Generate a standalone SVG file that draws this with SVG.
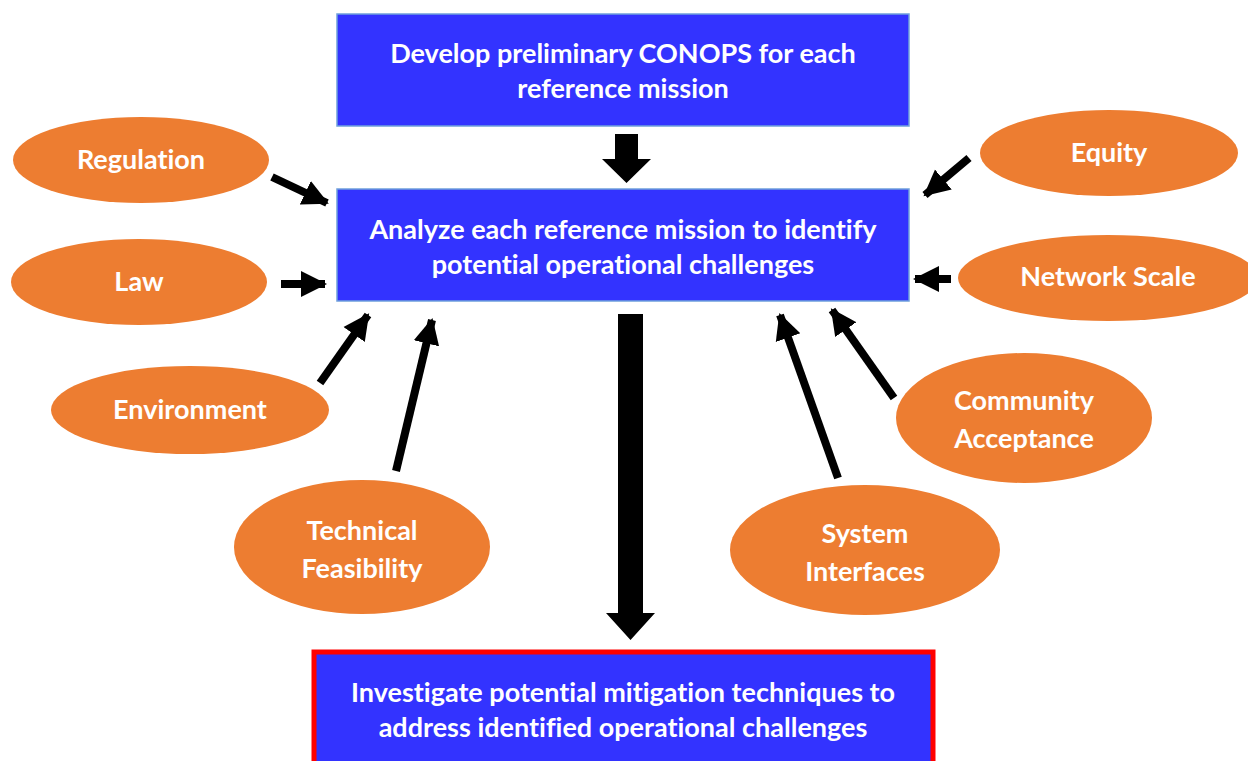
<svg xmlns="http://www.w3.org/2000/svg" width="1248" height="761" viewBox="0 0 1248 761">
<style>
.box{fill:#3333FF;stroke:#6FA0DC;stroke-width:1.5}
.red{fill:#3333FF;stroke:#FF0000;stroke-width:5}
.ell{fill:#ED7D31}
.t{font-family:Lato,"Open Sans",sans-serif;font-weight:bold;font-size:27px;fill:#FFFFFF;text-anchor:middle;dominant-baseline:central;font-variant-ligatures:none}
.a{stroke:#000;stroke-width:8;fill:none;marker-end:url(#ah)}
.blk{fill:#000}
</style>
<defs>
<marker id="ah" markerUnits="userSpaceOnUse" markerWidth="28" markerHeight="28" refX="24" refY="14" orient="auto" viewBox="0 0 28 28">
<path d="M0,1 L26,14 L0,27 Z" fill="#000"/>
</marker>
</defs>
<rect width="1248" height="761" fill="#FFFFFF"/>
<g id="conops">
<rect class="box" x="337" y="14" width="572" height="112"/>
<text class="t" x="623" y="52">Develop preliminary CONOPS for each</text>
<text class="t" x="623" y="87">reference mission</text>
</g>
<g id="analyze">
<rect class="box" x="337" y="189" width="572" height="112"/>
<text class="t" x="623" y="228">Analyze each reference mission to identify</text>
<text class="t" x="623" y="263">potential operational challenges</text>
</g>
<g id="investigate">
<rect class="red" x="314" y="652" width="619" height="115"/>
<text class="t" x="623" y="691">Investigate potential mitigation techniques to</text>
<text class="t" x="623" y="726">address identified operational challenges</text>
</g>
<g id="regulation"><ellipse class="ell" cx="141" cy="160" rx="128" ry="43"/><text class="t" x="141" y="158">Regulation</text></g>
<g id="law"><ellipse class="ell" cx="139" cy="282" rx="128" ry="43"/><text class="t" x="139" y="280">Law</text></g>
<g id="environment"><ellipse class="ell" cx="190" cy="410" rx="139" ry="44"/><text class="t" x="190" y="408">Environment</text></g>
<g id="technical"><ellipse class="ell" cx="362" cy="547" rx="128" ry="67"/><text class="t" x="362" y="529">Technical</text><text class="t" x="362" y="567">Feasibility</text></g>
<g id="system"><ellipse class="ell" cx="865" cy="550" rx="135" ry="65"/><text class="t" x="865" y="532">System</text><text class="t" x="865" y="570">Interfaces</text></g>
<g id="community"><ellipse class="ell" cx="1024" cy="418" rx="128" ry="65"/><text class="t" x="1024" y="399">Community</text><text class="t" x="1024" y="437">Acceptance</text></g>
<g id="network"><ellipse class="ell" cx="1108" cy="278" rx="150" ry="43"/><text class="t" x="1108" y="275">Network Scale</text></g>
<g id="equity"><ellipse class="ell" cx="1109" cy="153" rx="129" ry="43"/><text class="t" x="1109" y="151">Equity</text></g>
<g id="connectors">
<path class="blk" d="M615,134 H638 V159 H651 L626.5,183 L602,159 H615 Z"/>
<path class="blk" d="M618,314 H643 V613 H655 L630.5,640 L606,613 H618 Z"/>
<line class="a" x1="272" y1="177" x2="327" y2="203"/>
<line class="a" x1="281" y1="284" x2="325" y2="284"/>
<line class="a" x1="320" y1="383" x2="368" y2="315"/>
<line class="a" x1="396" y1="471" x2="432" y2="320"/>
<line class="a" x1="969" y1="158" x2="925" y2="195"/>
<line class="a" x1="951" y1="279" x2="915" y2="279"/>
<line class="a" x1="894" y1="398" x2="832" y2="310"/>
<line class="a" x1="838" y1="478" x2="780" y2="315"/>
</g>
</svg>
